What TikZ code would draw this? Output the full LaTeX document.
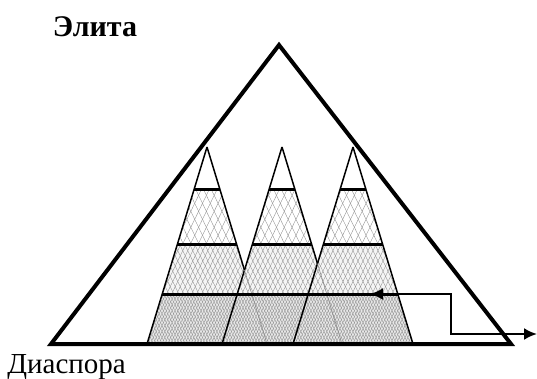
\documentclass[tikz,border=0pt]{standalone}
\usepackage{fontspec}
\setmainfont{Liberation Serif}
\usetikzlibrary{arrows.meta,calc,patterns.meta}
\tikzset{every picture/.style={line width=0.75pt},
  mesh/.style 2 args={pattern={Lines[angle=#1,distance=#2,line width=0.35pt]},pattern color=black!45},
  edge/.style={line width=1.5pt},
  faint/.style={line width=0.6pt,black!45},
  layer/.style={line width=3pt},
  link/.style={line width=2.2pt,{Latex[length=13pt,width=12pt]}-{Latex[length=13pt,width=12pt]}}}

\begin{document}
\begin{tikzpicture}[x=1pt,y=-1pt]
    \useasboundingbox (0,0) rectangle (537,379);
    % big pyramid
    \coordinate (top) at (279,45);
    \coordinate (bl) at (51,344);
    \coordinate (br) at (511,344);
    % small pyramids
    \foreach \i/\x in {1/207,2/282,3/353}{
        \coordinate (a\i) at (\x,147);
        \coordinate (l\i) at (\x-60,344);
        \coordinate (r\i) at (\x+60,344);
    }
    % layers
    \foreach \i in {1,2,3}{
        \foreach \f/\g/\d/\c in {0.214/0.495/7/0, 0.495/0.75/4.5/4, 0.75/1/2.6/9}{
            \fill[black!\c] ($(a\i)!\f!(l\i)$) -- ($(a\i)!\g!(l\i)$) -- ($(a\i)!\g!(r\i)$) -- ($(a\i)!\f!(r\i)$) -- cycle;
            \path[mesh={64}{\d pt}] ($(a\i)!\f!(l\i)$) -- ($(a\i)!\g!(l\i)$) -- ($(a\i)!\g!(r\i)$) -- ($(a\i)!\f!(r\i)$) -- cycle;
            \path[mesh={-64}{\d pt}] ($(a\i)!\f!(l\i)$) -- ($(a\i)!\g!(l\i)$) -- ($(a\i)!\g!(r\i)$) -- ($(a\i)!\f!(r\i)$) -- cycle;
        }
    }
    \foreach \i in {1,2,3}
        \draw[edge] (l\i) -- (a\i);
    \draw[edge] (a1) -- ($(a1)!0.625!(r1)$) coordinate (x1);
    \draw[faint] (x1) -- (r1);
    \draw[edge] (a2) -- ($(a2)!0.592!(r2)$) coordinate (x2);
    \draw[faint] (x2) -- (r2);
    \draw[edge] (a3) -- (r3);
    \foreach \i in {1,2,3}
        \foreach \f in {0.214,0.495}
            \draw[layer] ($(a\i)!\f!(l\i)$) -- ($(a\i)!\f!(r\i)$);
    \draw[layer] ($(a1)!0.75!(l1)$) -- ($(a3)!0.75!(r3)$);
    \draw[line width=4pt] (bl) -- (top) -- (br) -- cycle;
    % migration arrow
    \coordinate (in) at (370,294);
    \coordinate (bend) at (451,294);
    \coordinate (out) at (537,334);
    \draw[link] (in) -- (bend) |- (out);
    \node[font=\bfseries\fontsize{30}{34}\selectfont,anchor=base,inner sep=0pt] (elite) at (95,37) {Элита};
    \node[font=\fontsize{29}{33}\selectfont,anchor=base west,inner sep=0pt] (diaspora) at (7,373) {Диаспора};
\end{tikzpicture}
\end{document}
